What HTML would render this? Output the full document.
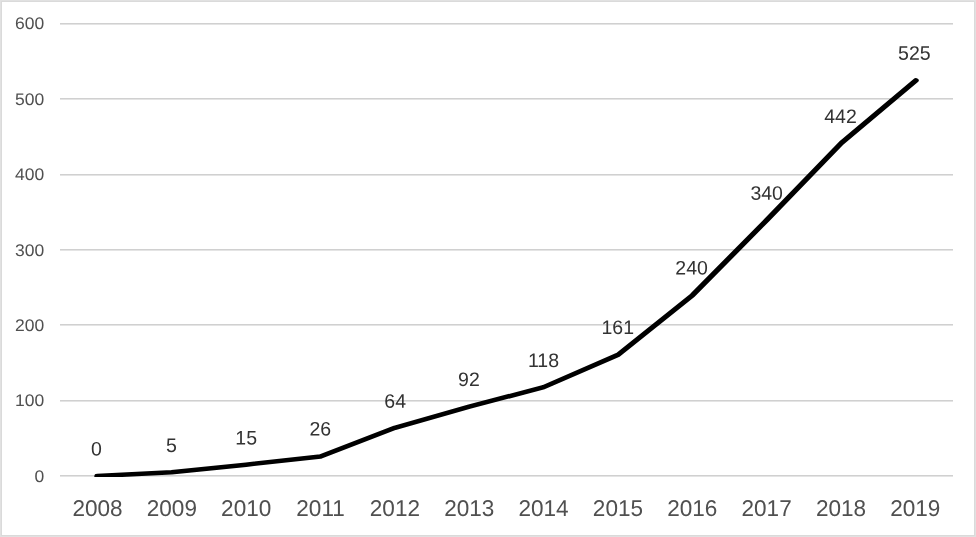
<!DOCTYPE html>
<html lang="en"><head><meta charset="utf-8"><title>Chart</title>
<style>
html,body{margin:0;padding:0;background:#fff;}
body{width:976px;height:537px;overflow:hidden;}
svg{display:block;}
text{font-family:"Liberation Sans",Arial,sans-serif;text-rendering:geometricPrecision;}
.ax{fill:#505050;}
.dl{fill:#333333;}
</style></head><body>
<svg width="976" height="537" viewBox="0 0 976 537">
<rect x="0" y="0" width="976" height="537" fill="#ffffff"/>
<rect x="0.5" y="0.5" width="975" height="536" fill="none" stroke="#e1e1e1" stroke-width="1"/>
<rect x="1.5" y="1.5" width="973" height="534" fill="none" stroke="#dadada" stroke-width="1"/>
<rect x="60.0" y="475" width="893.0" height="1" fill="#d0d0d0"/>
<rect x="60.0" y="476" width="893.0" height="1" fill="#e4e4e4"/>
<rect x="60.0" y="400" width="893.0" height="1" fill="#d0d0d0"/>
<rect x="60.0" y="401" width="893.0" height="1" fill="#e4e4e4"/>
<rect x="60.0" y="324" width="893.0" height="1" fill="#d0d0d0"/>
<rect x="60.0" y="325" width="893.0" height="1" fill="#e4e4e4"/>
<rect x="60.0" y="249" width="893.0" height="1" fill="#d0d0d0"/>
<rect x="60.0" y="250" width="893.0" height="1" fill="#e4e4e4"/>
<rect x="60.0" y="174" width="893.0" height="1" fill="#d0d0d0"/>
<rect x="60.0" y="175" width="893.0" height="1" fill="#e4e4e4"/>
<rect x="60.0" y="98" width="893.0" height="1" fill="#d0d0d0"/>
<rect x="60.0" y="99" width="893.0" height="1" fill="#e4e4e4"/>
<rect x="60.0" y="23" width="893.0" height="1" fill="#d0d0d0"/>
<rect x="60.0" y="24" width="893.0" height="1" fill="#e4e4e4"/>
<text class="ax" x="0" y="0" font-size="16.9" text-anchor="end" transform="translate(44.25 482.00) scale(1.036 1)">0</text>
<text class="ax" x="0" y="0" font-size="16.9" text-anchor="end" transform="translate(44.25 406.00) scale(1.036 1)">100</text>
<text class="ax" x="0" y="0" font-size="16.9" text-anchor="end" transform="translate(44.25 331.00) scale(1.036 1)">200</text>
<text class="ax" x="0" y="0" font-size="16.9" text-anchor="end" transform="translate(44.25 256.00) scale(1.036 1)">300</text>
<text class="ax" x="0" y="0" font-size="16.9" text-anchor="end" transform="translate(44.25 180.00) scale(1.036 1)">400</text>
<text class="ax" x="0" y="0" font-size="16.9" text-anchor="end" transform="translate(44.25 105.00) scale(1.036 1)">500</text>
<text class="ax" x="0" y="0" font-size="16.9" text-anchor="end" transform="translate(44.25 29.00) scale(1.036 1)">600</text>
<text class="ax" x="0" y="0" font-size="22.9" text-anchor="middle" transform="translate(97.51 516) scale(0.985 1)">2008</text>
<text class="ax" x="0" y="0" font-size="22.9" text-anchor="middle" transform="translate(171.86 516) scale(0.985 1)">2009</text>
<text class="ax" x="0" y="0" font-size="22.9" text-anchor="middle" transform="translate(246.20 516) scale(0.985 1)">2010</text>
<text class="ax" x="0" y="0" font-size="22.9" text-anchor="middle" transform="translate(320.55 516) scale(0.985 1)">2011</text>
<text class="ax" x="0" y="0" font-size="22.9" text-anchor="middle" transform="translate(394.90 516) scale(0.985 1)">2012</text>
<text class="ax" x="0" y="0" font-size="22.9" text-anchor="middle" transform="translate(469.24 516) scale(0.985 1)">2013</text>
<text class="ax" x="0" y="0" font-size="22.9" text-anchor="middle" transform="translate(543.59 516) scale(0.985 1)">2014</text>
<text class="ax" x="0" y="0" font-size="22.9" text-anchor="middle" transform="translate(617.93 516) scale(0.985 1)">2015</text>
<text class="ax" x="0" y="0" font-size="22.9" text-anchor="middle" transform="translate(692.28 516) scale(0.985 1)">2016</text>
<text class="ax" x="0" y="0" font-size="22.9" text-anchor="middle" transform="translate(766.63 516) scale(0.985 1)">2017</text>
<text class="ax" x="0" y="0" font-size="22.9" text-anchor="middle" transform="translate(840.97 516) scale(0.985 1)">2018</text>
<text class="ax" x="0" y="0" font-size="22.9" text-anchor="middle" transform="translate(915.32 516) scale(0.985 1)">2019</text>
<clipPath id="plot"><rect x="0" y="0" width="976" height="477"/></clipPath>
<g clip-path="url(#plot)"><g transform="scale(1.3 1)"><polyline points="74.776,476.00 132.019,472.23 189.263,464.70 246.506,456.41 303.750,427.79 360.994,406.69 418.237,387.11 475.481,354.71 532.724,295.20 589.968,219.87 647.212,143.03 704.455,80.50" fill="none" stroke="#000000" stroke-width="4.5" stroke-linecap="round" stroke-linejoin="round"/></g></g>
<text class="dl" x="0" y="0" font-size="19.5" text-anchor="middle" transform="translate(96.46 455.50) rotate(0.03)">0</text>
<text class="dl" x="0" y="0" font-size="19.5" text-anchor="middle" transform="translate(171.50 452.00) rotate(0.03)">5</text>
<text class="dl" x="0" y="0" font-size="19.5" text-anchor="middle" transform="translate(246.15 444.60) rotate(0.03)">15</text>
<text class="dl" x="0" y="0" font-size="19.5" text-anchor="middle" transform="translate(320.30 435.60) rotate(0.03)">26</text>
<text class="dl" x="0" y="0" font-size="19.5" text-anchor="middle" transform="translate(395.15 407.70) rotate(0.03)">64</text>
<text class="dl" x="0" y="0" font-size="19.5" text-anchor="middle" transform="translate(468.89 386.00) rotate(0.03)">92</text>
<text class="dl" x="0" y="0" font-size="19.5" text-anchor="middle" transform="translate(543.44 367.00) rotate(0.03)">118</text>
<text class="dl" x="0" y="0" font-size="19.5" text-anchor="middle" transform="translate(617.78 333.90) rotate(0.03)">161</text>
<text class="dl" x="0" y="0" font-size="19.5" text-anchor="middle" transform="translate(691.63 274.60) rotate(0.03)">240</text>
<text class="dl" x="0" y="0" font-size="19.5" text-anchor="middle" transform="translate(766.68 199.80) rotate(0.03)">340</text>
<text class="dl" x="0" y="0" font-size="19.5" text-anchor="middle" transform="translate(840.52 123.00) rotate(0.03)">442</text>
<text class="dl" x="0" y="0" font-size="19.5" text-anchor="middle" transform="translate(914.37 59.75) rotate(0.03)">525</text>
</svg>
</body></html>
